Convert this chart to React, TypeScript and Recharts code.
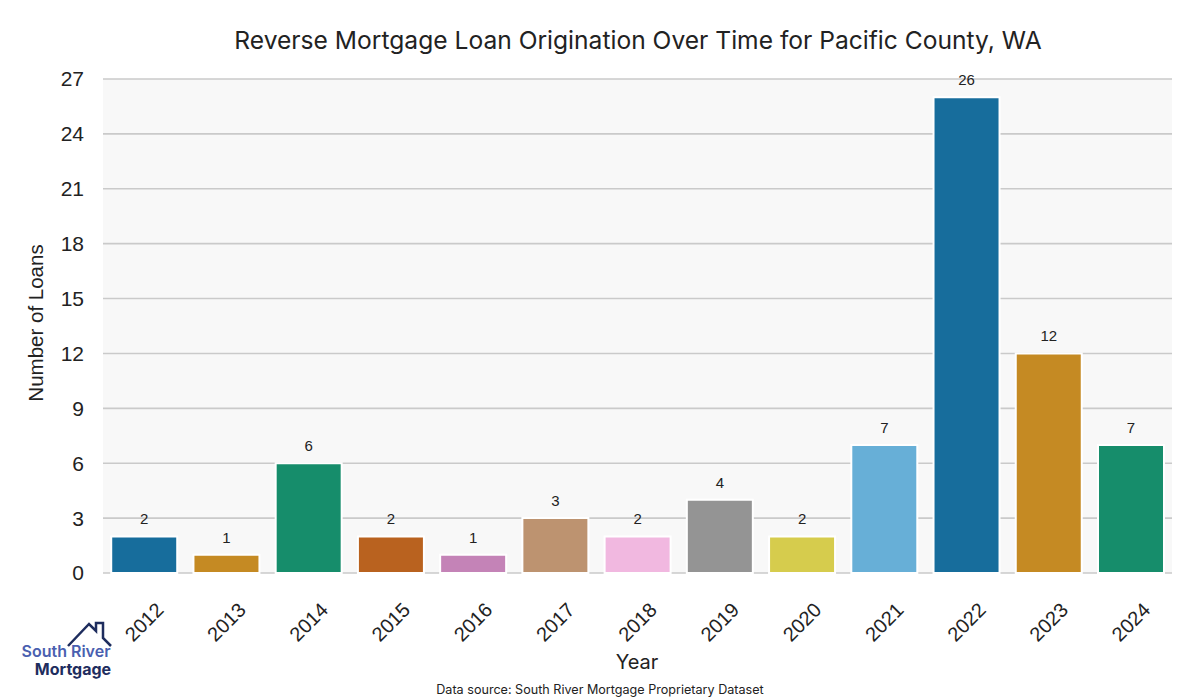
import React from "react";
import { BarChart, Bar, XAxis, YAxis, CartesianGrid, Cell, LabelList } from "recharts";

const years = ["2012", "2013", "2014", "2015", "2016", "2017", "2018", "2019", "2020", "2021", "2022", "2023", "2024"];
const loans = [2, 1, 6, 2, 1, 3, 2, 4, 2, 7, 26, 12, 7];
const colors = ["#176d9c", "#c58a23", "#168d6b", "#b9621f", "#c483b7", "#bd9370", "#f1b8e0", "#949494", "#d6cc4d", "#67afd7", "#176d9c", "#c58a23", "#168d6b"];
const yTicks = [0, 3, 6, 9, 12, 15, 18, 21, 24, 27];

const data = years.map((y, i) => ({ year: y, loans: loans[i] }));

const XTick = (props: any) => {
  const { x, y, payload } = props;
  return (
    <g transform={`translate(${x},${y})`}>
      <text
        x={0}
        y={0}
        transform="translate(0,41) rotate(-45)"
        textAnchor="middle"
        dominantBaseline="central"
        fontFamily="Liberation Sans, Arial, sans-serif"
        fontSize={20}
        fill="#222"
      >
        {payload.value}
      </text>
    </g>
  );
};

export default function App() {
  return (
    <div style={{ position: "absolute", left: 0, top: 0, width: 1200, height: 700, background: "#fff" }}>
      <BarChart width={1200} height={700} data={data} margin={{ top: 79, right: 28, bottom: 0, left: 0 }} barCategoryGap="10%">
        <CartesianGrid vertical={false} stroke="#cacaca" strokeWidth={1.6} fill="#f8f8f8" />
        <XAxis dataKey="year" height={127} axisLine={false} tickLine={false} tick={<XTick />} interval={0} />
        <YAxis
          width={103}
          domain={[0, 27]}
          ticks={yTicks}
          axisLine={false}
          tickLine={false}
          tickSize={0}
          tickMargin={19}
          tick={{ fontFamily: "Liberation Sans, Arial, sans-serif", fontSize: 21, fill: "#222" }}
        />
        <Bar dataKey="loans" isAnimationActive={false} stroke="#ffffff" strokeWidth={2}>
          {data.map((d, i) => (
            <Cell key={d.year} fill={colors[i]} />
          ))}
          <LabelList dataKey="loans" position="top" offset={12} style={{ fontFamily: "Liberation Sans, Arial, sans-serif", fontSize: 15, fill: "#222" }} />
        </Bar>
      </BarChart>
      <svg width={1200} height={700} style={{ position: "absolute", left: 0, top: 0, pointerEvents: "none" }}>
        <text x={638} y={40} textAnchor="middle" dominantBaseline="central" fontFamily="Inter, sans-serif" fontSize={24.6} fill="#222">
          Reverse Mortgage Loan Origination Over Time for Pacific County, WA
        </text>
        <text x={637} y={662} textAnchor="middle" dominantBaseline="central" fontFamily="Inter, sans-serif" fontSize={20} fill="#222">
          Year
        </text>
        <text
          transform="translate(35,323) rotate(-90)"
          textAnchor="middle"
          dominantBaseline="central"
          fontFamily="Liberation Sans, Arial, sans-serif"
          fontSize={20.5}
          fill="#222"
        >
          Number of Loans
        </text>
        <text x={600} y={689} textAnchor="middle" dominantBaseline="central" fontFamily="Inter, sans-serif" fontSize={12.6} fill="#222">
          Data source: South River Mortgage Proprietary Dataset
        </text>
        <path d="M68 646 L89 624 L96 631 L96 623 L103 623 L103 638 L111 646" fill="none" stroke="#1e2d5e" strokeWidth={2.5} />
        <text x={66} y={657} textAnchor="middle" fontFamily="Inter, sans-serif" fontWeight={600} fontSize={16} fill="#4a5fb0">
          South River
        </text>
        <text x={73} y={675} textAnchor="middle" fontFamily="Inter, sans-serif" fontWeight={700} fontSize={16} fill="#1e2d5e">
          Mortgage
        </text>
      </svg>
    </div>
  );
}
